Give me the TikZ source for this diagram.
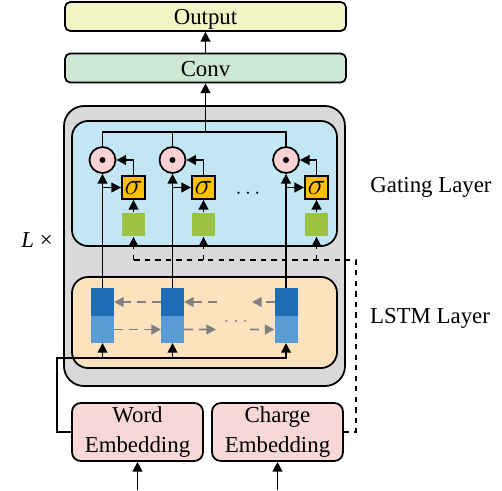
\documentclass[tikz,border=0pt]{standalone}
\usepackage{fontspec}
\setmainfont{Liberation Serif}
\usepackage{tikz}
\usepackage{xcolor}
\usetikzlibrary{arrows.meta,positioning}

\definecolor{outfill}{RGB}{242,244,198}
\definecolor{convfill}{RGB}{205,232,210}
\definecolor{layerfill}{RGB}{217,217,217}
\definecolor{gatefill}{RGB}{195,230,245}
\definecolor{lstmfill}{RGB}{253,227,189}
\definecolor{mulfill}{RGB}{249,211,211}
\definecolor{sigfill}{RGB}{255,192,0}
\definecolor{greenfill}{RGB}{157,195,68}
\definecolor{hidfill}{RGB}{30,109,180}
\definecolor{fwdfill}{RGB}{91,155,213}
\definecolor{embfill}{RGB}{248,215,215}

\tikzset{
  every node/.style={font=\fontsize{13}{15}\selectfont},
  topbox/.style={draw,rounded corners=3pt,minimum width=5.62cm,minimum height=0.58cm,inner sep=0pt,text height=9.5pt,text depth=0pt},
  embbox/.style={draw,fill=embfill,rounded corners=5pt,minimum width=2.62cm,minimum height=1.16cm,inner sep=0pt,align=center},
  mulnode/.style={draw,circle,fill=mulfill,minimum size=0.52cm,inner sep=0pt,
    path picture={\fill[black] (path picture bounding box.center) circle (1.7pt);}},
  signode/.style={draw,fill=sigfill,minimum size=0.46cm,inner sep=0pt,font=\fontsize{19}{21}\selectfont},
  gatebox/.style={fill=greenfill,minimum size=0.46cm,inner sep=0pt},
  hidbox/.style={fill=hidfill,minimum width=0.46cm,minimum height=0.56cm,inner sep=0pt,outer sep=0pt},
  fwdbox/.style={fill=fwdfill,minimum width=0.46cm,minimum height=0.54cm,inner sep=0pt,outer sep=0pt},
  lstmarrow/.style={->,gray,dashed,dash pattern=on 5pt off 3.5pt,line width=1.1pt}
}

\begin{document}
\begin{tikzpicture}[x=0.02cm,y=-0.02cm,line width=1pt,>={Triangle[length=5.5pt,width=5.5pt]}]
\useasboundingbox (0,0) rectangle (502,490);
\draw[fill=layerfill,rounded corners=0.4cm] (64,106) rectangle (345,386);
\draw[fill=gatefill,rounded corners=0.32cm] (72,121) rectangle (337,246);
\draw[fill=lstmfill,rounded corners=0.32cm] (72,277) rectangle (337,368);

\node[topbox,fill=outfill] (output) at (205.5,16.5) {Output};
\node[topbox,fill=convfill] (conv) at (205.5,68) {Conv};

\node[mulnode] (m1) at (102.5,160) {};
\node[mulnode] (m2) at (172.5,160) {};
\node[mulnode] (m3) at (286,160) {};
\node[signode] (s1) at (133.5,187.5) {$\sigma$};
\node[signode] (s2) at (203.5,187.5) {$\sigma$};
\node[signode] (s3) at (316.5,187.5) {$\sigma$};
\node[gatebox] (g1) at (133.5,224.5) {};
\node[gatebox] (g2) at (203.5,224.5) {};
\node[gatebox] (g3) at (316.5,224.5) {};
\node (gdots) at (248,194) {$\cdots$};

\node[hidbox] (h1) at (102.5,302) {};
\node[hidbox] (h2) at (172.5,302) {};
\node[hidbox] (h3) at (286,302) {};
\node[fwdbox,below=0pt of h1] (f1) {};
\node[fwdbox,below=0pt of h2] (f2) {};
\node[fwdbox,below=0pt of h3] (f3) {};
\node[text=gray] (ldots) at (236,322) {$\cdots$};

\node[embbox] (word) at (137.5,432) {Word\\[2pt]Embedding};
\node[embbox] (charge) at (277.5,432) {Charge\\[2pt]Embedding};

\node (gatelbl) at (431,187) {Gating Layer};
\node (lstmlbl) at (430,318) {LSTM Layer};
\node (lnum) at (37,240) {\textit{L} ×};

% gating
\coordinate (gtop) at (205.5,132);
\draw (m1.north) |- (gtop) -| (m3.north);
\draw (m2.north) -- (m2.north |- gtop);
\draw[->] (gtop) -- (conv);
\draw[->] (conv) -- (output);
\draw[->] (g1) -- (s1);
\draw[->] (g2) -- (s2);
\draw[->] (g3) -- (s3);
\draw[->] (s1.north) |- (m1.east);
\draw[->] (s2.north) |- (m2.east);
\draw[->] (s3.north) |- (m3.east);
\draw[->] (m1.south |- s1.west) -- (s1.west);
\draw[->] (m2.south |- s2.west) -- (s2.west);
\draw[->] (m3.south |- s3.west) -- (s3.west);
\draw[->] (h1.north) -- (m1.south);
\draw[->] (h2.north) -- (m2.south);
\draw[->] (h3.north) -- (m3.south);

% charge
\coordinate (dk) at (356,260);
\draw[dashed] (charge.east) -| (dk) -- (dk -| g1.south);
\draw[dashed,->] (g1.south |- dk) -- (g1.south);
\draw[dashed,->] (g2.south |- dk) -- (g2.south);
\draw[dashed,->] (g3.south |- dk) -- (g3.south);

% lstm
\coordinate (b2) at (217,302);
\coordinate (a2) at (216,329.5);
\coordinate (b3) at (252,302);
\coordinate (a3) at (250,329.5);
\draw[lstmarrow] (h2.west) -- (h1.east);
\draw[lstmarrow] (f1.east) -- (f2.west);
\draw[lstmarrow] (b2) -- (h2.east);
\draw[lstmarrow] (f2.east) -- (a2);
\draw[lstmarrow] (h3.west) -- (b3);
\draw[lstmarrow] (a3) -- (f3.west);

% word
\coordinate (wturn) at (57,358);
\draw[->] (word.west) -| (wturn) -| (f3.south);
\draw[->] (f1.south |- wturn) -- (f1.south);
\draw[->] (f2.south |- wturn) -- (f2.south);

\coordinate (win) at (137.5,490);
\coordinate (cin) at (277.5,490);
\draw[->] (win) -- (word);
\draw[->] (cin) -- (charge);
\end{tikzpicture}
\end{document}
